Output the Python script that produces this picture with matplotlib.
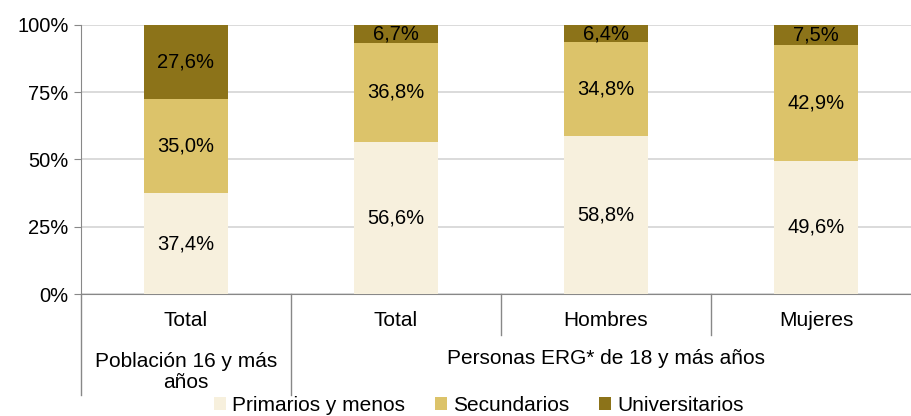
import matplotlib.pyplot as plt
from matplotlib.ticker import PercentFormatter

plt.rcParams['font.family'] = ['Liberation Sans', 'DejaVu Sans']

categorias = ['Total', 'Total', 'Hombres', 'Mujeres']
primarios = [37.4, 56.6, 58.8, 49.6]
secundarios = [35.0, 36.8, 34.8, 42.9]
universitarios = [27.6, 6.7, 6.4, 7.5]
series = ['Primarios y menos', 'Secundarios', 'Universitarios']
colores = ['#F7F0DD', '#DCC36A', '#8C7319']
grupos = ['Población 16 y más\naños', 'Personas ERG* de 18 y más años']

fig = plt.figure(figsize=(9.12, 4.16), dpi=100)
ax = fig.add_axes([81 / 912, 122 / 416, 840 / 912, 269 / 416])

x = list(range(len(categorias)))
bottom = [0, 0, 0, 0]
for nombre, vals, col in zip(series, [primarios, secundarios, universitarios], colores):
    ax.bar(x, vals, width=0.4, bottom=bottom, color=col, label=nombre, zorder=3)
    for xi, b, v in zip(x, bottom, vals):
        ax.text(xi, b + v / 2, f'{v:.1f}%'.replace('.', ','), ha='center', va='center',
                fontsize=14.5, zorder=4)
    bottom = [b + v for b, v in zip(bottom, vals)]

ax.set_xlim(-0.5, 3.5)
ax.set_ylim(0, 100)
ax.set_yticks([0, 25, 50, 75, 100])
ax.yaxis.set_major_formatter(PercentFormatter(decimals=0))
ax.tick_params(axis='y', labelsize=14.5, color='#888888', length=5, pad=4)
ax.set_xticks([])
ax.grid(axis='y', color='#D4D4D4', linewidth=1.2, zorder=0)
for s in ['top', 'right']:
    ax.spines[s].set_visible(False)
ax.spines['left'].set_color('#888888')
ax.spines['bottom'].set_color('#888888')

tr = ax.get_xaxis_transform()
# separadores bajo el eje
for xs, y0 in [(-0.5, -0.375), (0.5, -0.375), (1.5, -0.152), (2.5, -0.152)]:
    ax.plot([xs, xs], [0, y0], transform=tr, color='#888888', lw=1, clip_on=False)

for xi, c in zip(x, categorias):
    ax.text(xi, -0.1, c, transform=tr, ha='center', va='center', fontsize=15)
ax.text(0, -0.29, grupos[0], transform=tr, ha='center', va='center', fontsize=15,
        linespacing=1.1)
ax.text(2, -0.24, grupos[1], transform=tr, ha='center', va='center', fontsize=15)

fig.legend(loc='center', bbox_to_anchor=(0.525, 0.026), ncol=3, frameon=False,
           fontsize=15, handlelength=0.6, handleheight=0.6, handletextpad=0.3,
           columnspacing=1.4, borderpad=0)

fig.savefig('out.png', dpi=100)
